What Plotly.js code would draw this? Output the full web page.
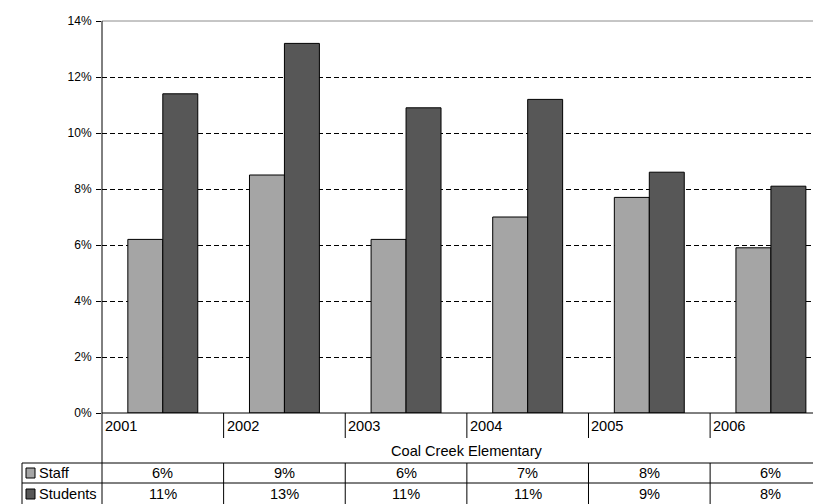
<!DOCTYPE html>
<html>
<head>
<meta charset="utf-8">
<script src="https://cdn.plot.ly/plotly-3.0.1.min.js"></script>
<style>html,body{margin:0;padding:0;background:#fff;}#chart{width:813px;height:504px;}</style>
</head>
<body>
<div id="chart"></div>
<script>
// ---- data ----
var years = ['2001', '2002', '2003', '2004', '2005', '2006'];
var staffValues = [6.2, 8.5, 6.2, 7.0, 7.7, 5.9];
var studentValues = [11.4, 13.2, 10.9, 11.2, 8.6, 8.1];
var staffLabels = ['6%', '9%', '6%', '7%', '8%', '6%'];
var studentLabels = ['11%', '13%', '11%', '11%', '9%', '8%'];
var seriesNames = ['Staff', 'Students'];
var tableTitle = 'Coal Creek Elementary';

// ---- layout geometry (pixels) ----
var W = 813, H = 504;
var L = 102, T = 21, B = 413;           // plot area edges
var plotW = W - L, plotH = B - T;
var xMax = 5.846;                        // visible part of category axis
var colors = ['#A5A5A5', '#575757'];
var font = 'Liberation Sans, Arial, sans-serif';
var tblSize = 14.6;

function py(p) { return (B - p) / plotH; }      // pixel y -> paper y
function pxp(p) { return (p - L) / plotW; }     // pixel x -> paper x

var xPos = years.map(function (_, i) { return i + 0.5; });

var traces = [
  { type: 'bar', name: seriesNames[0], x: xPos, y: staffValues,
    marker: { color: colors[0], line: { color: '#000', width: 1 } }, hoverinfo: 'y' },
  { type: 'bar', name: seriesNames[1], x: xPos, y: studentValues,
    marker: { color: colors[1], line: { color: '#000', width: 1 } }, hoverinfo: 'y' }
];

var shapes = [], annotations = [];
function line(xref, x0, x1, y0, y1, color, width) {
  shapes.push({ type: 'line', xref: xref, yref: 'paper', x0: x0, x1: x1, y0: y0, y1: y1,
    line: { color: color || '#000', width: width || 1 }, layer: 'above' });
}

// top border line (gray)
line('paper', 0, 1, 1, 1, '#8c8c8c', 1);
// y axis line extended down through the table
line('paper', 0, 0, 1, py(H + 2));
// x axis line
line('paper', 0, 1, 0, 0);
// table horizontal lines
line('paper', pxp(22), 1, py(463), py(463));
line('paper', pxp(22), 1, py(483), py(483));
// table left border
line('paper', pxp(22), pxp(22), py(463), py(H + 2));

// category separators
for (var i = 1; i <= years.length; i++) {
  line('x', i, i, 0, py(438));
  line('x', i, i, py(463), py(H + 2));
}

// year labels
years.forEach(function (y, i) {
  annotations.push({ xref: 'x', yref: 'paper', x: i, y: py(426), text: y, showarrow: false,
    xanchor: 'left', yanchor: 'middle', xshift: 1, font: { family: font, size: tblSize, color: '#000' } });
});
// table title
annotations.push({ xref: 'x', yref: 'paper', x: 3, y: py(451), text: tableTitle, showarrow: false,
  xanchor: 'center', yanchor: 'middle', font: { family: font, size: tblSize, color: '#000' } });
// table values
[staffLabels, studentLabels].forEach(function (labels, r) {
  var rowY = r === 0 ? 473 : 494;
  labels.forEach(function (t, i) {
    annotations.push({ xref: 'x', yref: 'paper', x: i + 0.5, y: py(rowY), text: t, showarrow: false,
      xanchor: 'center', yanchor: 'middle', font: { family: font, size: tblSize, color: '#000' } });
  });
  // legend key + row header
  shapes.push({ type: 'rect', xref: 'paper', yref: 'paper', x0: pxp(26), x1: pxp(35),
    y0: py(rowY + 5), y1: py(rowY - 5), fillcolor: colors[r], line: { color: '#000', width: 1 }, layer: 'above' });
  annotations.push({ xref: 'paper', yref: 'paper', x: pxp(37), y: py(rowY), text: seriesNames[r], showarrow: false,
    xanchor: 'left', yanchor: 'middle', font: { family: font, size: tblSize, color: '#000' } });
});

var layout = {
  width: W, height: H,
  margin: { l: L, r: 0, t: T, b: H - B, pad: 0 },
  paper_bgcolor: '#fff', plot_bgcolor: '#fff',
  showlegend: false,
  barmode: 'group', bargap: 0.425, bargroupgap: 0,
  xaxis: { range: [0, xMax], showticklabels: false, ticks: '', showgrid: false, zeroline: false, showline: false, fixedrange: true },
  yaxis: { range: [0, 14], dtick: 2, tick0: 0, ticksuffix: '%', ticks: 'outside', ticklen: 5, tickcolor: '#000',
    ticklabelstandoff: 2,
    showgrid: true, gridcolor: '#000', gridwidth: 1, griddash: '5px,3px', zeroline: false, showline: false,
    tickfont: { family: font, size: 12, color: '#000' }, fixedrange: true },
  shapes: shapes,
  annotations: annotations
};

Plotly.newPlot('chart', traces, layout, { displayModeBar: false, staticPlot: true });
</script>
</body>
</html>
